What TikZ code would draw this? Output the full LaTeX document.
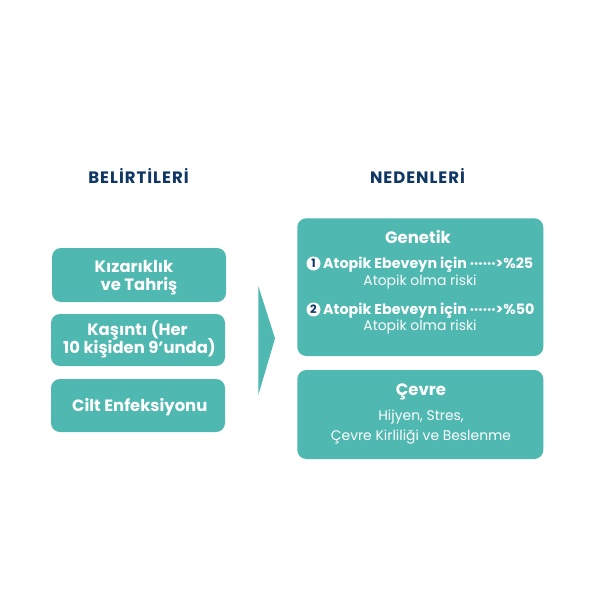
\documentclass[tikz,border=0pt]{standalone}
\usepackage{fontspec}
\setmainfont{Poppins}
\newfontfamily\titlefont{Poppins}[UprightFont=* Bold,LetterSpace=6]
\definecolor{teal1}{HTML}{4FB8B1}
\definecolor{navy1}{HTML}{0F3763}
\begin{document}
\begin{tikzpicture}[x=1pt,y=-1pt,
  box/.style={fill=teal1,rounded corners=9pt,draw=none},
  title/.style={text=navy1,font=\titlefont\fontsize{16.5}{18}\selectfont,anchor=base,inner sep=0pt},
  ltxt/.style={text=white,font=\bfseries\fontsize{16.4}{19}\selectfont,anchor=base,inner sep=0pt},
  head/.style={text=white,font=\bfseries\fontsize{16.5}{18}\selectfont,anchor=base,inner sep=0pt},
  rb/.style={text=white,font=\bfseries\fontsize{14.3}{16}\selectfont,anchor=base west,inner sep=0pt},
  rr/.style={text=white,font=\fontsize{13.9}{16}\selectfont,anchor=base,inner sep=0pt},
  num/.style={circle,fill=white,text=navy1,inner sep=0pt,minimum size=14pt,font=\bfseries\fontsize{11.5}{11.5}\selectfont}]
\useasboundingbox (0,0) rectangle (596,596);
\fill[white] (0,0) rectangle (596,596);
% titles
\node[title] (t1) at (138.5,183) {BELİRTİLERİ};
\node[title] (t2) at (417.5,183) {NEDENLERİ};
% left boxes
\path[box] (52,248) rectangle (226,302);
\path[box] (51,314) rectangle (225,366);
\path[box] (51,379) rectangle (225,432);
\node[ltxt] (l1a) at (134,272.3) {Kızarıklık};
\node[ltxt] (l1b) at (139,290.7) {ve Tahriş};
\node[ltxt] (l2a) at (137.5,335.3) {Kaşıntı (Her};
\node[ltxt] (l2b) at (139.5,353) {10 kişiden 9’unda)};
\node[ltxt] (l3) at (139.7,411.3) {Cilt Enfeksiyonu};
% arrow
\fill[teal1] (258.3,286) -- (275,338.5) -- (258.3,395) -- cycle;
% right boxes
\path[box] (297.3,218.3) rectangle (543.3,356);
\path[box] (297.3,370) rectangle (543.3,459);
\node[head] (g) at (418,243.3) {Genetik};
\node[num] (n1) at (313.5,263.5) {1};
\node[rb] (a1) at (323,268.3) {Atopik Ebeveyn için ······>\%25};
\node[rr] (r1) at (420,285) {Atopik olma riski};
\node[num] (n2) at (313.5,309.5) {2};
\node[rb] (a2) at (323,314.3) {Atopik Ebeveyn için ······>\%50};
\node[rr] (r2) at (420,330) {Atopik olma riski};
\node[head] (c) at (421,395.7) {Çevre};
\node[rr] (h1) at (421,420) {Hijyen, Stres,};
\node[rr] (h2) at (421,440) {Çevre Kirliliği ve Beslenme};
\end{tikzpicture}
\end{document}
